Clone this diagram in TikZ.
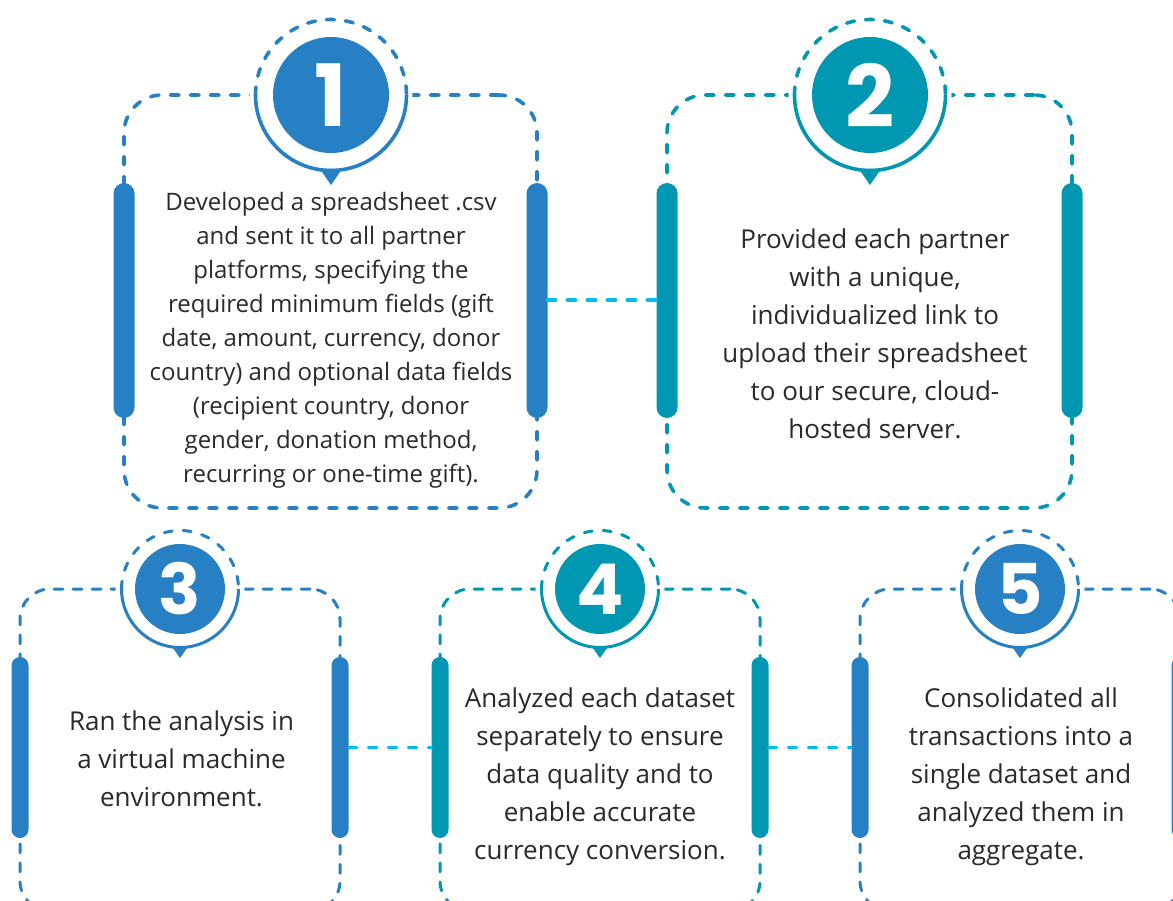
\documentclass[tikz,border=0pt]{standalone}
\usepackage{fontspec}
\setmainfont{Open Sans}
\newfontfamily\numfont{Poppins}
\usetikzlibrary{calc}
\definecolor{cblue}{HTML}{2780C4}
\definecolor{cteal}{HTML}{0097B2}
\definecolor{clink}{HTML}{00BCF2}
\definecolor{ctext}{HTML}{2A2A2A}
\tikzset{
  framebig/.style={draw, rectangle, inner sep=0pt, outer sep=0pt, line width=3.6pt, line cap=round, dash pattern=on 8.5pt off 11.5pt, rounded corners=38pt},
  framesmall/.style={draw, rectangle, inner sep=0pt, outer sep=0pt, line width=3pt, line cap=round, dash pattern=on 9pt off 10pt, rounded corners=30pt},
  barbig/.style={rectangle, inner sep=0pt, outer sep=0pt, minimum width=21pt, minimum height=235pt, rounded corners=10.5pt},
  barsmall/.style={rectangle, inner sep=0pt, outer sep=0pt, minimum width=17pt, minimum height=181pt, rounded corners=8.5pt},
  badgebig/.style={circle, inner sep=0pt, minimum size=116pt, text=white, font=\numfont\bfseries\fontsize{86}{86}\selectfont},
  badgesmall/.style={circle, inner sep=0pt, minimum size=90pt, text=white, font=\numfont\bfseries\fontsize{70}{70}\selectfont},
  txtbig/.style={inner sep=0pt, align=center, text=ctext, font=\fontsize{24}{34}\selectfont},
  txtsmall/.style={inner sep=0pt, align=center, text=ctext, font=\fontsize{26}{38}\selectfont},
  link/.style={draw=clink, line width=4pt, line cap=round, dash pattern=on 8pt off 12pt},
  linksmall/.style={draw=clink, line width=3.6pt, line cap=round, dash pattern=on 8pt off 12pt},
}
% #1 badge centre, #2 colour, #3 ring radius, #4 line width, #5 pointer base offset, #6 apex offset, #7 half width
\newcommand{\myring}[7]{%
  \fill[white] (#1) circle (#3pt+6pt);
  \draw[#2, line width=#4, line cap=round, dash pattern=on 8pt off 11pt] ($(#1)+(-#3,0)$) arc[start angle=180, end angle=0, radius=#3pt];
  \draw[#2, line width=#4] ($(#1)+(-#3,0)$) arc[start angle=180, end angle=360, radius=#3pt];
  \fill[#2] ($(#1)+(-#7,#5)$) -- ($(#1)+(0,#6)$) -- ($(#1)+(#7,#5)$) -- cycle;
}
\begin{document}
\begin{tikzpicture}[x=1pt,y=-1pt]
\useasboundingbox (0,0) rectangle (1173,901);
\clip (0,0) rectangle (1173,901);
\fill[white] (0,0) rectangle (1173,901);

% ---------- top row frames
\node[framebig, draw=cblue, minimum width=413pt, minimum height=413pt] (box1) at (330.5,301.5) {};
\node[framebig, draw=cteal, minimum width=405pt, minimum height=413pt] (box2) at (869.5,301.5) {};
% ---------- bottom row frames
\node[framesmall, draw=cblue, minimum width=320pt, minimum height=322pt] (box3) at (180,750) {};
\node[framesmall, draw=cteal, minimum width=320pt, minimum height=322pt] (box4) at (600,750) {};
\node[framesmall, draw=cblue, minimum width=320pt, minimum height=322pt] (box5) at (1020,750) {};

% ---------- badge centres
\coordinate (c1) at (331,95);
\coordinate (c2) at (870,95);
\coordinate (c3) at (180,589);
\coordinate (c4) at (600,589);
\coordinate (c5) at (1020,589);

\myring{c1}{cblue}{75.5}{3.6pt}{74}{90}{11}
\myring{c2}{cteal}{75.5}{3.6pt}{74}{90}{11}
\myring{c3}{cblue}{58.5}{3pt}{57}{69}{8.5}
\myring{c4}{cteal}{58.5}{3pt}{57}{69}{8.5}
\myring{c5}{cblue}{58.5}{3pt}{57}{69}{8.5}

\node[badgebig, fill=cblue] (n1) at (c1) {1};
\node[badgebig, fill=cteal] (n2) at (c2) {2};
\node[badgesmall, fill=cblue] (n3) at (c3) {3};
\node[badgesmall, fill=cteal] (n4) at (c4) {4};
\node[badgesmall, fill=cblue] (n5) at (c5) {5};

% ---------- bars
\node[barbig, fill=cblue] (b1l) at (124,300.5) {};
\node[barbig, fill=cblue] (b1r) at (537,300.5) {};
\node[barbig, fill=cteal] (b2l) at (667,300.5) {};
\node[barbig, fill=cteal] (b2r) at (1072,300.5) {};
\node[barsmall, fill=cblue] (b3l) at (20,747.5) {};
\node[barsmall, fill=cblue] (b3r) at (340,747.5) {};
\node[barsmall, fill=cteal] (b4l) at (440,747.5) {};
\node[barsmall, fill=cteal] (b4r) at (760,747.5) {};
\node[barsmall, fill=cblue] (b5l) at (860,747.5) {};
\node[barsmall, fill=cblue] (b5r) at (1180,747.5) {};

% ---------- connectors
\draw[link] (b1r.east) -- (b2l.west);
\draw[linksmall] (b3r.east) -- (b4l.west);
\draw[linksmall] (b4r.east) -- (b5l.west);

% ---------- texts
\node[txtbig] (t1) at (331,339.2) {\strut Developed a spreadsheet .csv\\and sent it to all partner\\platforms, specifying the\\required minimum fields (gift\\date, amount, currency, donor\\country) and optional data fields\\(recipient country, donor\\gender, donation method,\\recurring or one-time gift).\strut};
\node[txtsmall] (t2) at (875,335.4) {\strut Provided each partner\\with a unique,\\individualized link to\\upload their spreadsheet\\to our secure, cloud-\\hosted server.\strut};
\node[txtsmall] (t3) at (181.5,760.4) {\strut Ran the analysis in\\a virtual machine\\environment.\strut};
\node[txtsmall] (t4) at (600,775.4) {\strut Analyzed each dataset\\separately to ensure\\data quality and to\\enable accurate\\currency conversion.\strut};
\node[txtsmall] (t5) at (1021,775.4) {\strut Consolidated all\\transactions into a\\single dataset and\\analyzed them in\\aggregate.\strut};
\end{tikzpicture}
\end{document}
